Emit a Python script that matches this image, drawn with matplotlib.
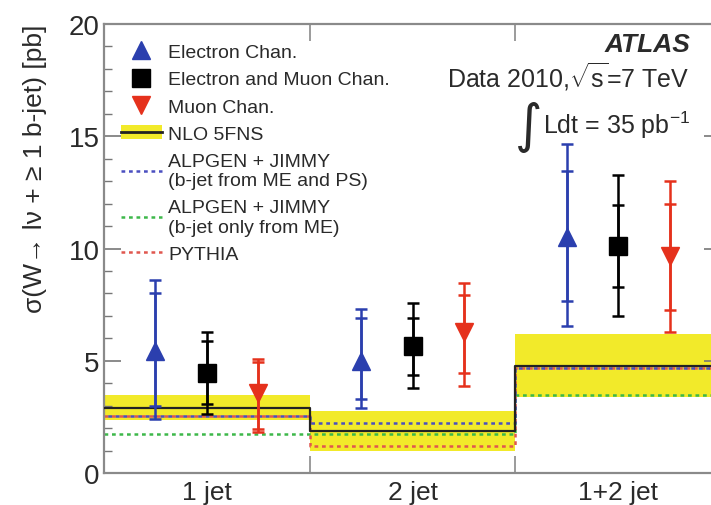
import matplotlib
matplotlib.use("Agg")
import matplotlib.pyplot as plt
from matplotlib.lines import Line2D
from matplotlib.patches import Patch
import numpy as np

plt.rcParams['font.family'] = ['Liberation Sans', 'DejaVu Sans']
plt.rcParams['mathtext.fontset'] = 'custom'
plt.rcParams['mathtext.rm'] = 'Liberation Sans'
plt.rcParams['mathtext.it'] = 'Liberation Sans:italic'
plt.rcParams['mathtext.sf'] = 'Liberation Sans'

# ---- data -------------------------------------------------------------
bins = ["1 jet", "2 jet", "1+2 jet"]

electron = [5.45, 5.00, 10.51]
electron_stat_up = [2.57, 1.89, 2.96]
electron_stat_dn = [2.47, 1.70, 2.83]
electron_tot_up = [3.15, 2.30, 4.14]
electron_tot_dn = [3.05, 2.12, 3.95]

combined = [4.47, 5.64, 10.09]
combined_stat_up = [1.42, 1.25, 1.85]
combined_stat_dn = [1.40, 1.26, 1.82]
combined_tot_up = [1.82, 1.93, 3.18]
combined_tot_dn = [1.84, 1.87, 3.08]

muon = [3.56, 6.27, 9.68]
muon_stat_up = [1.38, 1.66, 2.30]
muon_stat_dn = [1.60, 1.83, 2.40]
muon_tot_up = [1.52, 2.19, 3.34]
muon_tot_dn = [1.73, 2.38, 3.41]

nlo_central = [2.90, 1.89, 4.78]
nlo_low = [2.35, 0.99, 3.40]
nlo_high = [3.47, 2.78, 6.19]

alpgen_me_ps = [2.55, 2.21, 4.66]
alpgen_me_only = [1.74, 1.74, 3.48]
pythia = [2.52, 1.22, 4.70]

# ---- figure -----------------------------------------------------------
fig = plt.figure(figsize=(7.11, 5.06), dpi=100)
ax = fig.add_axes([0.1463, 0.0632, 0.8678, 0.8874])

text_col = '#2a2a2a'
blue = '#2b3fae'
red = '#e5311c'
yellow = '#f2ea2a'
dot = (0, (1.5, 1.5))

edges = np.arange(len(bins) + 1)

def step_vals(v):
    return list(v) + [v[-1]]

# theory band and curves
ax.fill_between(edges, step_vals(nlo_low), step_vals(nlo_high), step='post',
                color=yellow, lw=0, zorder=1)
ax.step(edges, step_vals(alpgen_me_only), where='post', color='#3db84a',
        lw=1.8, ls=dot, zorder=2)
ax.step(edges, step_vals(pythia), where='post', color='#e0574f',
        lw=1.8, ls=dot, zorder=2)
ax.step(edges, step_vals(alpgen_me_ps), where='post', color='#4a4fc0',
        lw=1.8, ls=(1.5, (1.5, 1.5)), zorder=2)
ax.step(edges, step_vals(nlo_central), where='post', color='#222222',
        lw=1.6, zorder=3)

# measurements: total and statistical error bars, then markers
series = [
    (0.25, electron, electron_stat_dn, electron_stat_up, electron_tot_dn, electron_tot_up, blue, '^'),
    (0.50, combined, combined_stat_dn, combined_stat_up, combined_tot_dn, combined_tot_up, 'black', 's'),
    (0.75, muon, muon_stat_dn, muon_stat_up, muon_tot_dn, muon_tot_up, red, 'v'),
]
for off, val, sdn, sup, tdn, tup, col, mk in series:
    xs = np.arange(len(bins)) + off
    ax.errorbar(xs, val, yerr=[tdn, tup], fmt='none', ecolor=col, elinewidth=1.8,
                capsize=4, capthick=1.8, zorder=4)
    ax.errorbar(xs, val, yerr=[sdn, sup], fmt='none', ecolor=col, elinewidth=1.8,
                capsize=4, capthick=1.8, zorder=4)
    ax.plot(xs, val, ls='none', marker=mk, color=col, markersize=13, zorder=5)

# axes styling
ax.set_xlim(0, 3)
ax.set_ylim(0, 20)
for s in ax.spines.values():
    s.set_color('#8a8a8a')
    s.set_linewidth(1.6)

ax.set_yticks([0, 5, 10, 15, 20])
ax.set_yticks(np.arange(0, 21, 1), minor=True)
ax.tick_params(axis='y', which='major', direction='in', length=12, width=1.2,
               color='#777777', left=True, right=True, labelsize=20, labelcolor=text_col, pad=3)
ax.tick_params(axis='y', which='minor', direction='in', length=6, width=1.0,
               color='#777777', left=True, right=True)

ax.set_xticks([1, 2])
ax.set_xticklabels([])
ax.set_xticks(np.arange(len(bins)) + 0.5, minor=True)
ax.set_xticklabels(bins, minor=True)
ax.tick_params(axis='x', which='major', direction='in', length=12, width=1.2,
               color='#8a8a8a', top=True, bottom=True)
ax.tick_params(axis='x', which='minor', length=0, labelsize=19, labelcolor=text_col, pad=5)

ax.set_ylabel(r"σ(W→ lν + ≥ 1 b-jet) [pb]", fontsize=19, color=text_col)
ax.yaxis.set_label_coords(-0.092, 0.68)

# legend
h_e = Line2D([], [], ls='none', marker='^', color=blue, markersize=13)
h_c = Line2D([], [], ls='none', marker='s', color='black', markersize=13)
h_m = Line2D([], [], ls='none', marker='v', color=red, markersize=13)
h_nlo = (Patch(facecolor=yellow, edgecolor='none'), Line2D([], [], color='#222222', lw=2))
h_ap = Line2D([], [], color='#4a4fc0', lw=1.8, ls=dot)
h_am = Line2D([], [], color='#3db84a', lw=1.8, ls=dot)
h_py = Line2D([], [], color='#e0574f', lw=1.8, ls=dot)
leg = ax.legend([h_e, h_c, h_m, h_nlo, h_ap, h_am, h_py],
                ["Electron Chan.", "Electron and Muon Chan.", "Muon Chan.", "NLO 5FNS",
                 "ALPGEN + JIMMY\n(b-jet from ME and PS)",
                 "ALPGEN + JIMMY\n(b-jet only from ME)", "PYTHIA"],
                loc='upper left', bbox_to_anchor=(0.005, 0.987), frameon=False,
                fontsize=14, handlelength=2.1, handletextpad=0.35, labelspacing=0.5,
                borderpad=0.2)
for t in leg.get_texts():
    t.set_color(text_col)

# experiment labels
ax.text(0.95, 0.955, "ATLAS", transform=ax.transAxes, ha='right', va='center',
        fontsize=19, fontweight='bold', fontstyle='italic', color=text_col)
ax.text(0.948, 0.884, r"Data 2010,$\sqrt{\mathrm{s}}$=7 TeV", transform=ax.transAxes,
        ha='right', va='center', fontsize=18, color=text_col)
ax.text(0.95, 0.777, r"Ldt = 35 pb$^{\mathrm{-1}}$", transform=ax.transAxes,
        ha='right', va='center', fontsize=18, color=text_col)
ax.text(0.688, 0.772, "∫", transform=ax.transAxes, ha='center', va='center',
        fontsize=38, color=text_col, family=['DejaVu Sans'])

fig.savefig("out.png", dpi=100)
